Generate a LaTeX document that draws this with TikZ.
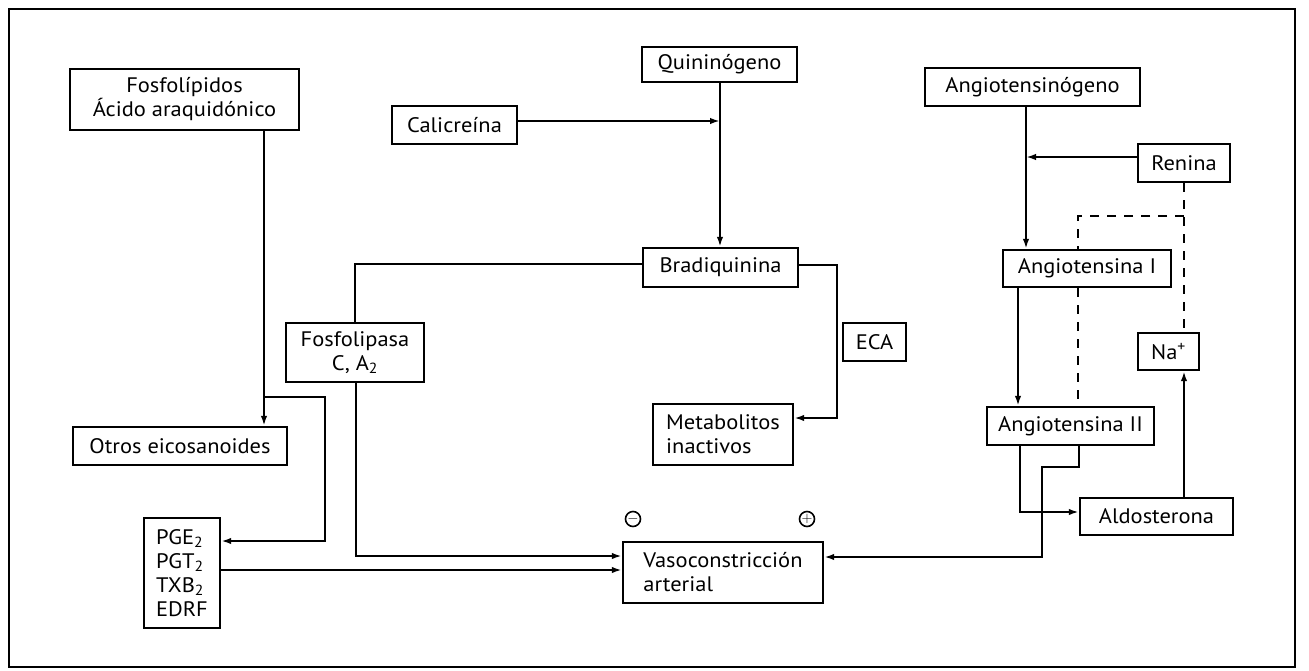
\documentclass[tikz,border=0pt]{standalone}
\usepackage{fontspec}
\setmainfont[FakeStretch=1.07]{PT Sans}
\usetikzlibrary{arrows.meta}
\tikzset{
  box/.style={draw, line width=2.4pt, inner sep=2pt, align=center, font=\fontsize{21}{24}\selectfont},
  lbox/.style={box, align=left},
  conn/.style={line width=2.6pt},
  arr/.style={conn, -{Latex[length=10pt,width=6.5pt]}},
  dsh/.style={line width=2.4pt, dash pattern=on 9pt off 8pt},
  sign/.style={circle, draw, line width=1.6pt, minimum size=15pt, inner sep=0pt, font=\fontsize{14}{14}\selectfont\bfseries}
}
\begin{document}
\begin{tikzpicture}[x=1pt,y=-1pt]
\useasboundingbox (0,0) rectangle (1309,670);
\draw[line width=2.4pt] (9,9) rectangle (1295,667);

% nodes
\node[box, minimum width=229pt, minimum height=61pt] (fosfo) at (184.5,99.5) {Fosfolípidos\\Ácido araquidónico};
\node[box, minimum width=125pt, minimum height=38pt] (cali) at (454.5,125) {Calicreína};
\node[box, minimum width=155pt, minimum height=35pt] (quini) at (719.5,64.5) {Quininógeno};
\node[box, minimum width=215pt, minimum height=38pt] (angino) at (1032.5,87) {Angiotensinógeno};
\node[box, minimum width=92pt, minimum height=38pt] (renina) at (1184,163) {Renina};
\node[box, minimum width=155pt, minimum height=39pt] (brad) at (720.5,267.5) {Bradiquinina};
\node[box, minimum width=138pt, minimum height=59pt] (fosfolip) at (355,352.5) {Fosfolipasa\\C, A\textsubscript{2}};
\node[box, minimum width=63pt, minimum height=38pt] (eca) at (874.5,342) {ECA};
\node[box, minimum width=168pt, minimum height=37pt] (angI) at (1087,268.5) {Angiotensina I};
\node[box, minimum width=61pt, minimum height=37pt] (na) at (1168.5,351.5) {Na\textsuperscript{+}};
\node[box, minimum width=214pt, minimum height=38pt] (otros) at (180,446) {Otros eicosanoides};
\node[lbox, minimum width=140pt, minimum height=61pt] (metab) at (723,434.5) {Metabolitos\\inactivos};
\node[box, minimum width=167pt, minimum height=38pt] (angII) at (1070.5,426) {Angiotensina II};
\node[box, minimum width=153pt, minimum height=37pt] (aldo) at (1156.5,516.5) {Aldosterona};
\node[lbox, minimum width=76pt, minimum height=110pt] (pge) at (182,573) {PGE\textsubscript{2}\\PGT\textsubscript{2}\\TXB\textsubscript{2}\\EDRF};
\node[lbox, minimum width=200pt, minimum height=61pt] (vaso) at (723,572.5) {Vasoconstricción\\arterial};

\node[sign] (minus) at (633,519) {$-$};
\node[sign] (plus) at (807,519) {$+$};

% helper coordinates
\coordinate (xF) at (264,0);
\coordinate (xQ) at (720,0);
\coordinate (xP) at (356,0);
\coordinate (xA) at (1026,0);
\coordinate (xR) at (1184,0);
\coordinate (xD) at (1078,0);
\coordinate (xS) at (1018,0);
\coordinate (xT) at (1020,0);
\coordinate (xU) at (1079,0);

\coordinate (b1) at (264,397);
\coordinate (b2) at (325,397);
\coordinate (b3) at (325,541);
\coordinate (calj) at (720,121);
\coordinate (renj) at (1026,157);
\coordinate (dj) at (1184,216);
\coordinate (dk) at (1078,216);
\coordinate (e1) at (837,265);
\coordinate (e2) at (837,418);
\coordinate (p1) at (356,556);
\coordinate (t1) at (1020,512);
\coordinate (u1) at (1079,467);
\coordinate (u2) at (1042,467);
\coordinate (u3) at (1042,557);

% left part
\draw[arr] (fosfo.south -| xF) -- (otros.north -| xF);
\draw[arr] (b1) -- (b2) -- (b3) -- (pge.east |- b3);
\draw[arr] (pge.east |- 0,570) -- (vaso.west |- 0,570);
\draw[conn] (brad.west |- 0,264) -| (fosfolip.north);
\draw[arr] (fosfolip.south -| xP) -- (p1) -- (vaso.west |- p1);

% middle
\draw[arr] (cali.east |- calj) -- (calj);
\draw[arr] (quini.south -| xQ) -- (brad.north -| xQ);
\draw[arr] (brad.east |- e1) -- (e1) -- (e2) -- (metab.east |- e2);

% right part
\draw[arr] (angino.south -| xA) -- (angI.north -| xA);
\draw[arr] (renina.west |- renj) -- (renj);
\draw[dsh] (renina.south -| xR) -- (na.north -| xR);
\draw[dsh] (dj) -- (dk) -- (angI.north -| xD);
\draw[dsh] (angI.south -| xD) -- (angII.north -| xD);
\draw[arr] (angI.south -| xS) -- (angII.north -| xS);
\draw[arr] (angII.south -| xT) -- (t1) -- (aldo.west |- t1);
\draw[arr] (angII.south -| xU) -- (u1) -- (u2) -- (u3) -- (vaso.east |- u3);
\draw[arr] (aldo.north -| xR) -- (na.south -| xR);
\end{tikzpicture}
\end{document}
